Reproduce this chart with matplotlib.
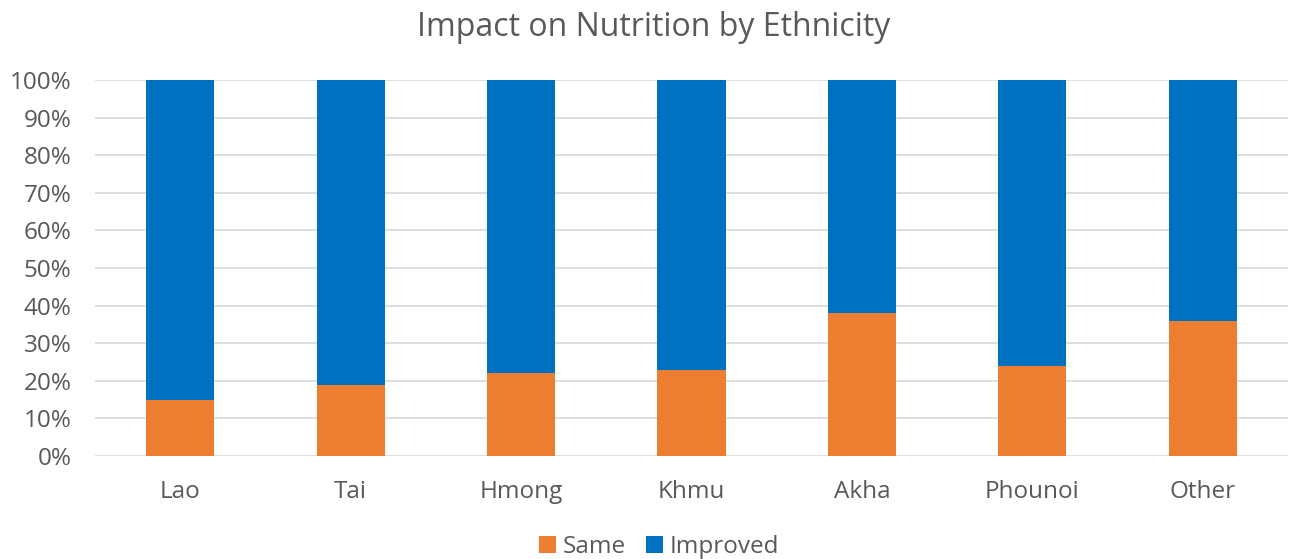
import matplotlib
matplotlib.use("Agg")
import matplotlib.pyplot as plt
from matplotlib.ticker import PercentFormatter

plt.rcParams["font.family"] = ["Open Sans", "DejaVu Sans"]

groups = ["Lao", "Tai", "Hmong", "Khmu", "Akha", "Phounoi", "Other"]
same = [15, 19, 22, 23, 38, 24, 36]
improved = [100 - s for s in same]

text_col = "#595959"
orange = "#ED7D31"
blue = "#0070C0"

fig = plt.figure(figsize=(12.89, 5.59), dpi=100)
ax = fig.add_axes([95 / 1289, 1 - 456 / 559, 1193 / 1289, 376 / 559])

x = range(len(groups))
ax.bar(x, same, width=0.4, color=orange, label="Same", zorder=3)
ax.bar(x, improved, bottom=same, width=0.4, color=blue, label="Improved", zorder=3)

ax.set_xlim(-0.5, len(groups) - 0.5)
ax.set_ylim(0, 100)
ax.set_yticks(range(0, 101, 10))
ax.yaxis.set_major_formatter(PercentFormatter(decimals=0))
ax.set_xticks(list(x))
ax.set_xticklabels(groups)
ax.grid(axis="y", color="#d9d9d9", linewidth=1.2, zorder=0)
for s in ax.spines.values():
    s.set_visible(False)
ax.tick_params(length=0, labelsize=17.5, colors=text_col)
ax.tick_params(axis="x", pad=17)
ax.tick_params(axis="y", pad=17)

fig.text(654 / 1289, 1 - 28 / 559, "Impact on Nutrition by Ethnicity",
         ha="center", va="center", fontsize=23, color=text_col)

fig.legend(loc="center", bbox_to_anchor=(659 / 1289, 1 - 547 / 559), ncol=2,
           frameon=False, fontsize=17.5, labelcolor=text_col, handlelength=0.7,
           handleheight=0.7, handletextpad=0.3, columnspacing=0.8)

fig.savefig("out.png", dpi=100)
